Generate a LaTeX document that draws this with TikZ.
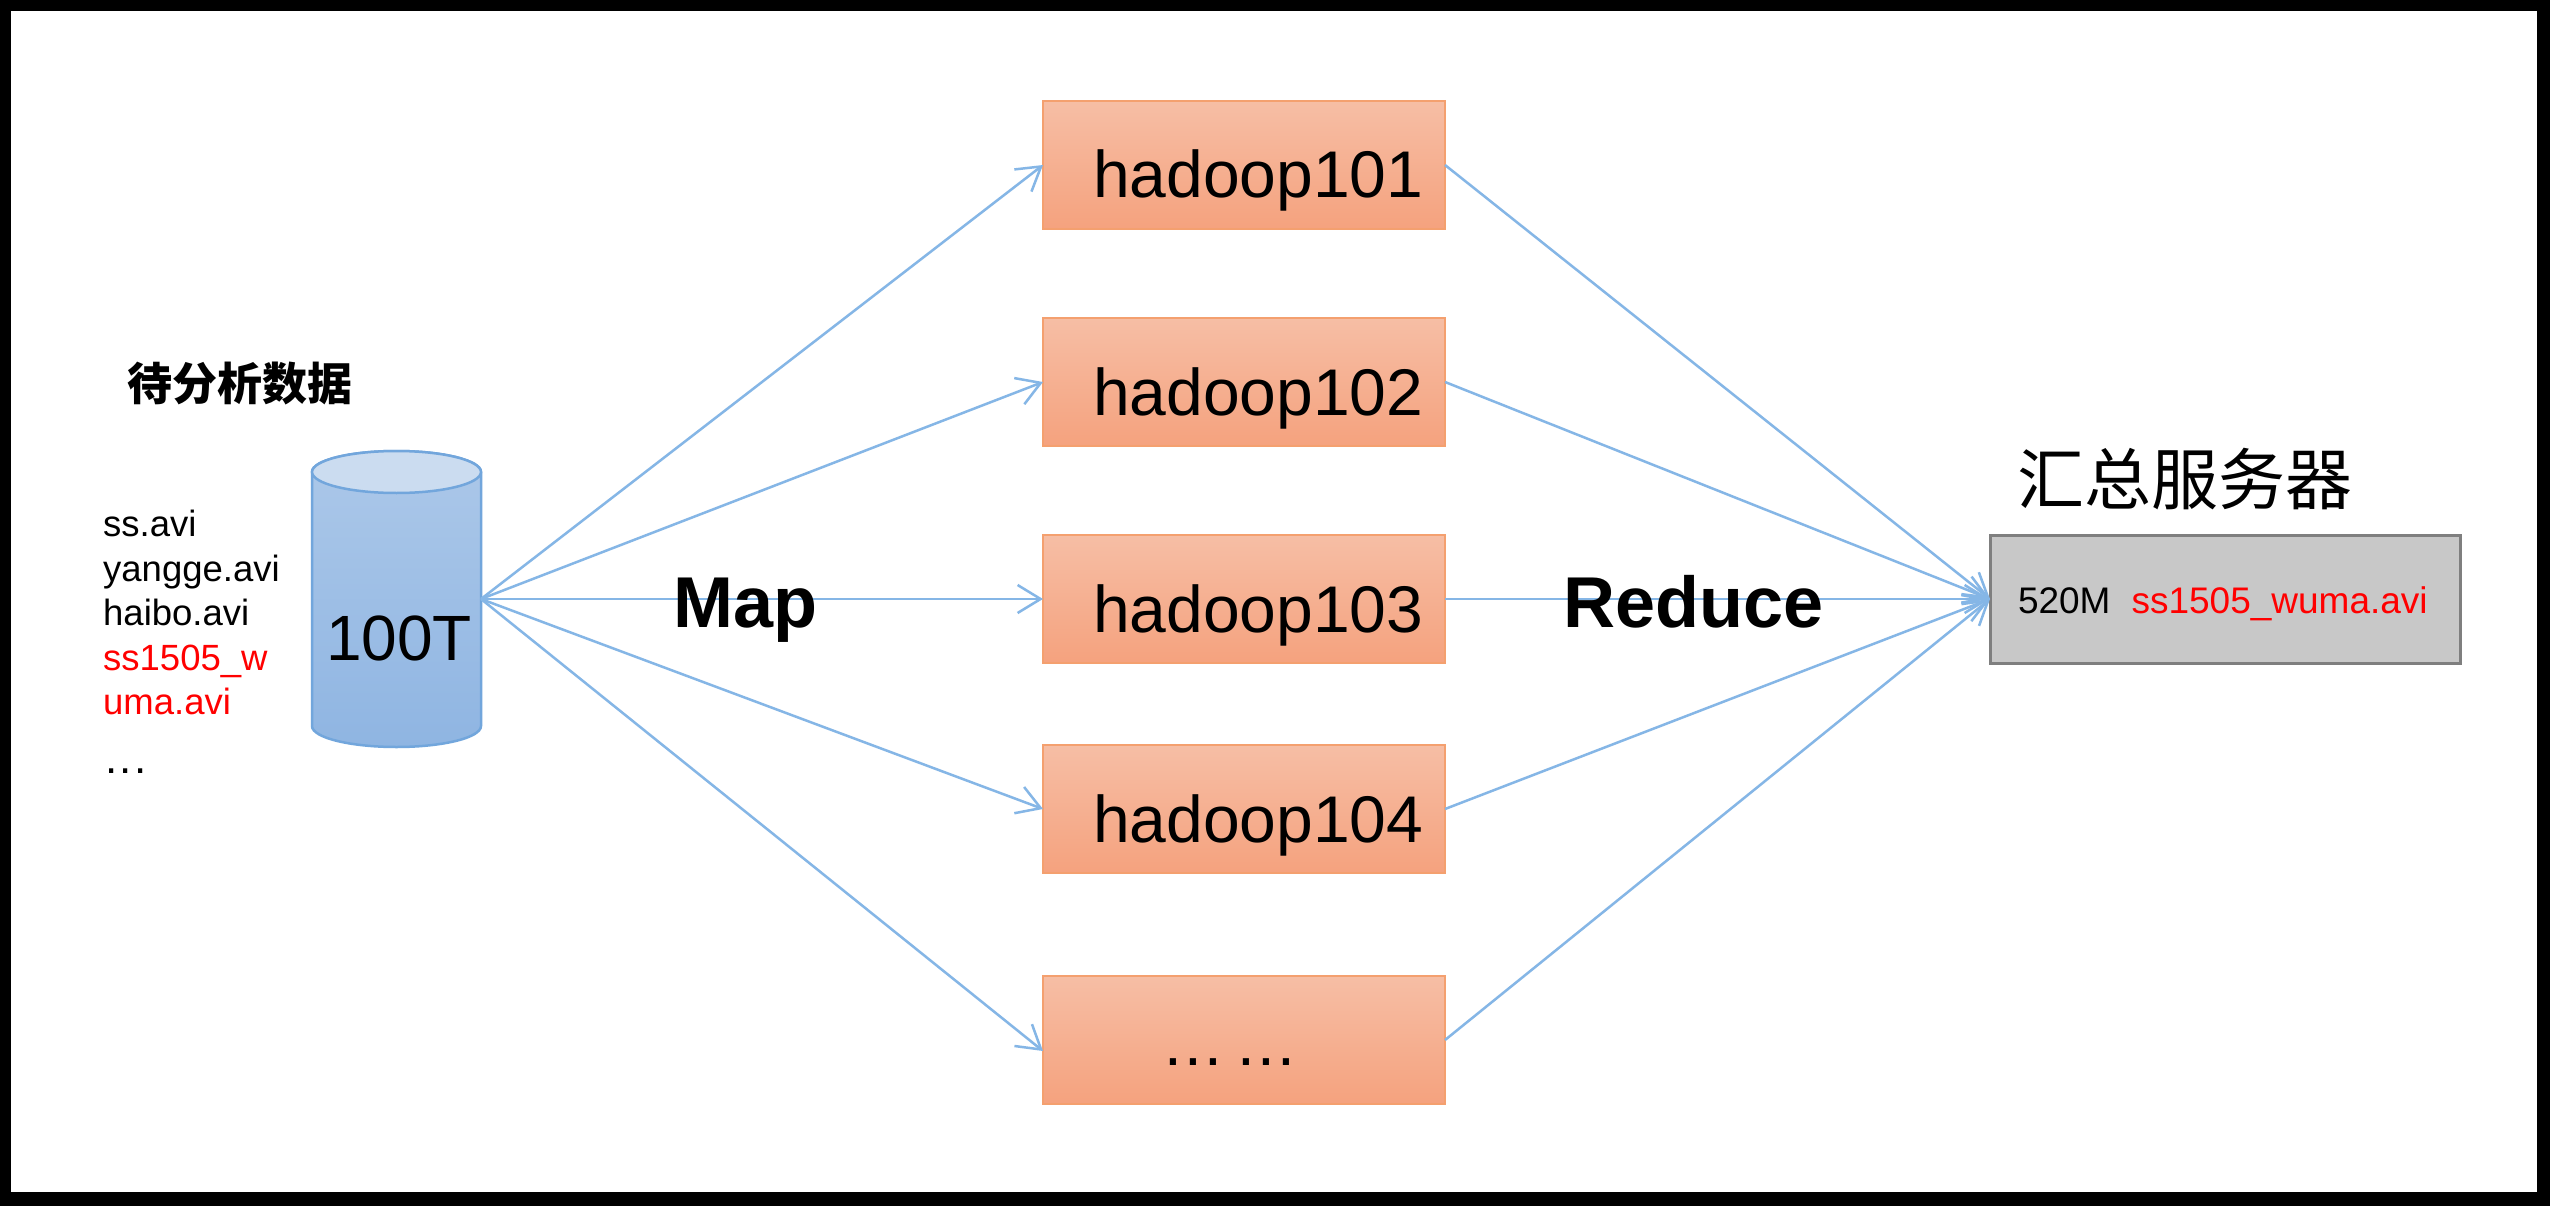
\documentclass[tikz,border=0pt]{standalone}
\usepackage{fontspec}
\setmainfont{Liberation Sans}
\newfontfamily\cjk{Noto Sans CJK SC}
\usetikzlibrary{arrows.meta}
\definecolor{framek}{HTML}{000000}
\definecolor{boxtop}{HTML}{F6BEA5}
\definecolor{boxbot}{HTML}{F5A27E}
\definecolor{boxline}{HTML}{F4A06F}
\definecolor{cyltop}{HTML}{ACC8E9}
\definecolor{cylbot}{HTML}{8FB5E2}
\definecolor{cylcap}{HTML}{CBDCF0}
\definecolor{cylline}{HTML}{72A6DC}
\definecolor{flow}{HTML}{85B6E6}
\definecolor{srvfill}{HTML}{C8C8C8}
\definecolor{srvline}{HTML}{7F7F7F}
\newcommand{\fs}[1]{\fontsize{#1pt}{#1pt}\selectfont}
\tikzset{
  worker/.style={shape=rectangle, draw=boxline, line width=2.5pt, top color=boxtop, bottom color=boxbot,
    minimum height=128pt, inner xsep=0pt, inner ysep=0pt, outer sep=0pt, text width=402pt, align=left,
    text height=80pt, text depth=14pt, font=\fs{66}},
  flowline/.style={draw=flow, line width=2.5pt, -{Straight Barb[length=23pt,width=28pt]}},
  bigword/.style={anchor=base west, inner sep=0pt, font=\fs{72}\bfseries},
}
\begin{document}
\begin{tikzpicture}[x=1pt,y=-1pt]
\path[use as bounding box, fill=framek] (0,0) rectangle (2550,1206);
\fill[white] (11,11) rectangle (2537,1192);
% cylinder body
\path[draw=cylline, line width=2.5pt, top color=cyltop, bottom color=cylbot]
  (312,472) -- (312,726) arc[start angle=180,end angle=360,x radius=84.5pt,y radius=21pt]
  -- (481,472) arc[start angle=0,end angle=180,x radius=84.5pt,y radius=21pt] -- cycle;
\draw[draw=cylline, line width=2.5pt, fill=cylcap] (396.5,472) ellipse [x radius=84.5pt,y radius=21pt];
\node[shape=rectangle, minimum width=169pt, minimum height=296pt, inner sep=0pt, outer sep=0pt,
  text height=122pt, text depth=0pt, font=\fs{64}] (store) at (396.5,599) {\hspace*{5pt}100T};
% boxes
\node[worker] (h1) at (1244,165) {\hspace*{50pt}hadoop101};
\node[worker] (h2) at (1244,382) {\hspace*{50pt}hadoop102};
\node[worker] (h3) at (1244,599) {\hspace*{50pt}hadoop103};
\node[worker] (h4) at (1244,809) {\hspace*{50pt}hadoop104};
\node[worker, text height=50pt, text depth=0pt, font=\fs{64}] (h5) at (1244,1040)
  {\hspace*{121pt}.\kern2.5pt.\kern2.5pt.\hspace*{15pt}.\kern2.5pt.\kern2.5pt.};
\node[shape=rectangle, draw=srvline, line width=3pt, fill=srvfill, minimum height=128pt, inner xsep=0pt,
  inner ysep=0pt, outer sep=0pt, text width=470pt, align=left, text height=28pt, text depth=0pt, font=\fs{37}]
  (srv) at (2225,599) {\hspace*{28pt}520M\hspace*{21pt}\textcolor{red}{ss1505\_wuma.avi}};
% connectors
\draw[flowline] (store.east) -- (h1.west);
\draw[flowline] (store.east) -- (h2.west);
\draw[flowline] (store.east) -- (h3.west);
\draw[flowline] (store.east) -- (h4.west);
\draw[flowline] (store.east) -- ([yshift=-11pt]h5.west);
\draw[flowline] (h1.east) -- (srv.west);
\draw[flowline] (h2.east) -- (srv.west);
\draw[flowline] (h3.east) -- (srv.west);
\draw[flowline] (h4.east) -- (srv.west);
\draw[flowline] (h5.east) -- (srv.west);
% labels
\node[bigword] (maplabel) at (673,627) {Map};
\node[bigword] (reducelabel) at (1563,627) {Reduce};
\node[inner sep=0pt, font=\cjk\bfseries\fs{45}] (datatitle) at (239.5,384) {待分析数据};
\node[inner sep=0pt, font=\cjk\fs{67}] (srvtitle) at (2184.5,479) {汇总服务器};
\node[anchor=north west, inner sep=0pt, align=left, font=\fontsize{36.5pt}{44.5pt}\selectfont] (files) at (103,510)
  {ss.avi\\yangge.avi\\haibo.avi\\\textcolor{red}{ss1505\_w}\\\textcolor{red}{uma.avi}\\[14.5pt]{\fontsize{44pt}{44.5pt}\selectfont \hspace*{2pt}.\kern2.5pt.\kern2.5pt.}};
\end{tikzpicture}
\end{document}
